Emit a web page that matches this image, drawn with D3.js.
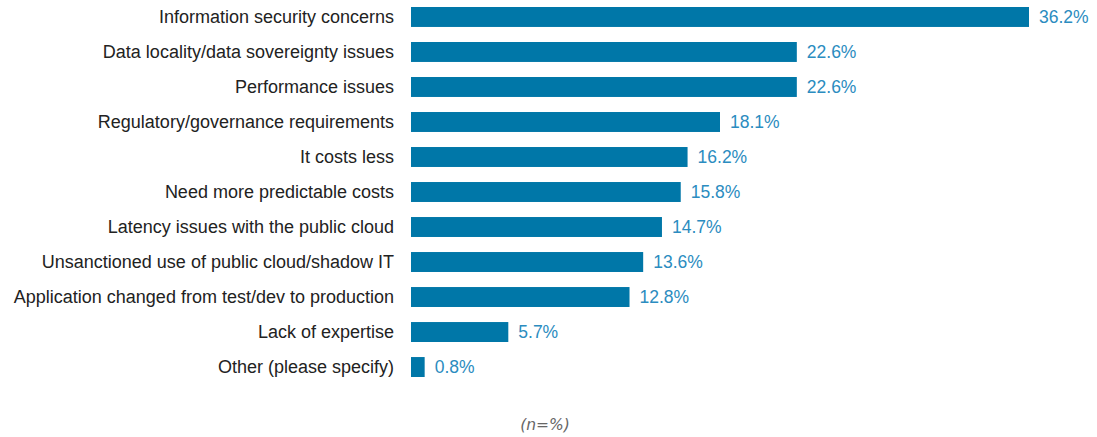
<!DOCTYPE html>
<html lang="en">
<head>
  <meta charset="utf-8">
  <title>Reasons</title>
  <script src="https://d3js.org/d3.v7.min.js"></script>
  <style>
    body { margin: 0; background: #fff; }
    .cat text { font: 18px "Liberation Sans", Arial, sans-serif; fill: #222; }
    .val { font: 17.5px "Liberation Sans", Arial, sans-serif; fill: #2b8cc0; }
    .note { font: italic 15.5px "DejaVu Sans", sans-serif; fill: #666; }
  </style>
</head>
<body>
  <div id="chart"></div>
  <script>
    "use strict"

    var categorias = [
      "Information security concerns",
      "Data locality/data sovereignty issues",
      "Performance issues",
      "Regulatory/governance requirements",
      "It costs less",
      "Need more predictable costs",
      "Latency issues with the public cloud",
      "Unsanctioned use of public cloud/shadow IT",
      "Application changed from test/dev to production",
      "Lack of expertise",
      "Other (please specify)"
    ]
    var valores = [36.2, 22.6, 22.6, 18.1, 16.2, 15.8, 14.7, 13.6, 12.8, 5.7, 0.8]
    var nota = "(n=%)"

    var larguraSVG = 1097, alturaSVG = 437
    var margin = {top: 0, left: 411}

    var svg = d3.select('#chart').append('svg')
      .attr('width', larguraSVG)
      .attr('height', alturaSVG)

    var g = svg.append('g')
      .attr('transform', 'translate(' + margin.left + ',' + margin.top + ')')

    // escala x: 36.2% termina em ~1029px
    var x = d3.scaleLinear()
      .domain([0, 36.2])
      .range([0, 618])

    var y = d3.scaleBand()
      .domain(categorias)
      .range([0, 384])
      .paddingInner(0.43)
      .paddingOuter(0.2)

    var dados = categorias.map((c, i) => ({cat: c, v: valores[i]}))

    g.selectAll('rect')
      .data(dados)
      .enter()
      .append('rect')
        .attr('x', 0)
        .attr('y', d => y(d.cat))
        .attr('width', d => x(d.v))
        .attr('height', y.bandwidth())
        .attr('fill', '#0077a8')

    g.selectAll('.val')
      .data(dados)
      .enter()
      .append('text')
        .attr('class', 'val')
        .attr('x', d => x(d.v) + 10)
        .attr('y', d => y(d.cat) + y.bandwidth() / 2)
        .attr('dy', '0.36em')
        .text(d => d.v.toFixed(1) + '%')

    var eixo = g.append('g')
      .attr('class', 'cat')
      .attr('transform', 'translate(-6,0)')
      .call(d3.axisLeft(y).tickSize(0).tickPadding(11))
    eixo.select('.domain').remove()

    svg.append('text')
      .attr('class', 'note')
      .attr('x', 545)
      .attr('y', 430)
      .attr('text-anchor', 'middle')
      .text(nota)
  </script>
</body>
</html>
